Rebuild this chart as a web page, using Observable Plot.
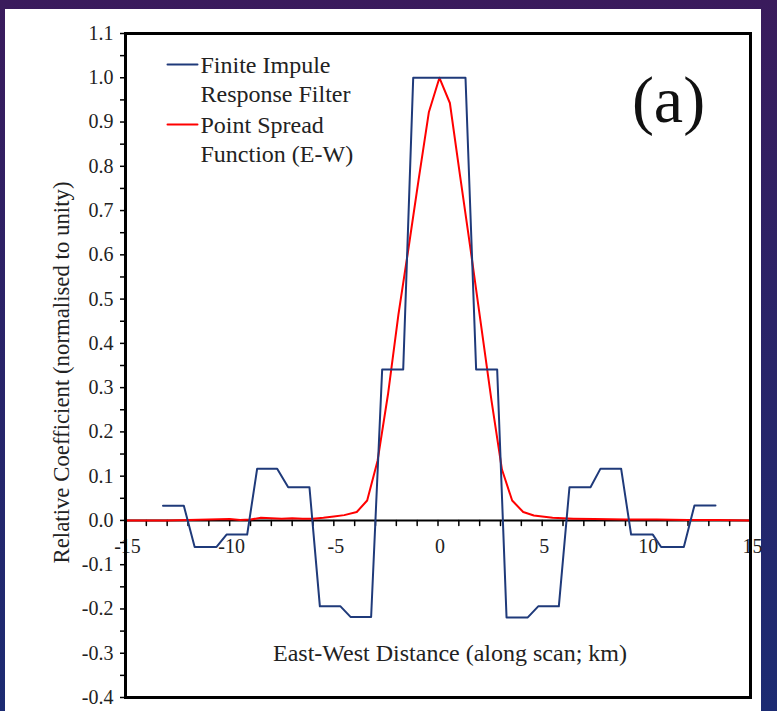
<!DOCTYPE html>
<html>
<head>
<meta charset="utf-8">
<script src="https://cdn.jsdelivr.net/npm/d3@7"></script>
<script src="https://cdn.jsdelivr.net/npm/@observablehq/plot@0.6"></script>
<style>
  html, body { margin: 0; padding: 0; }
  body { width: 777px; height: 711px; overflow: hidden;
         background: linear-gradient(180deg, #3a1b5c 0%, #2a2368 45%, #1c2b72 100%); }
  #wrap { position: relative; width: 777px; height: 711px; }
  #panel { position: absolute; left: 5px; top: 9px; width: 756px; height: 702px; background: #ffffff; }
  #chart { position: absolute; left: 0; top: 0; }
  #chart svg { background: transparent !important; }
  #chart svg text { font-family: "Liberation Serif", "Times New Roman", Times, "DejaVu Serif", serif !important; }
</style>
</head>
<body>
<div id="wrap"><div id="panel"></div><div id="chart"></div></div>
<script>
// Finite Impulse Response filter (blue step-like curve)
const firX = [-13.2, -12.2, -11.68, -10.63, -10.15, -9.16, -8.68, -7.72, -7.19, -6.17, -5.67, -4.68, -4.2, -3.21, -2.68, -1.67, -1.19, 1.32, 1.83, 2.84, 3.29, 4.31, 4.81, 5.8, 6.31, 7.32, 7.8, 8.79, 9.27, 10.31, 10.71, 11.8, 12.31, 13.32];
const firY = [0.033, 0.033, -0.06, -0.06, -0.032, -0.032, 0.117, 0.117, 0.075, 0.075, -0.194, -0.194, -0.218, -0.218, 0.341, 0.341, 1.0, 1.0, 0.341, 0.341, -0.219, -0.219, -0.194, -0.194, 0.075, 0.075, 0.117, 0.117, -0.032, -0.032, -0.06, -0.06, 0.034, 0.034];

// Point Spread Function (E-W) (red curve)
const psfX = [-15, -13, -12, -11, -10, -9.5, -9, -8.5, -8, -7.5, -7, -6.5, -6, -5.5, -5, -4.5, -3.9, -3.4, -2.9, -2.4, -1.9, -1.4, -0.93, -0.44, 0.07, 0.57, 1.07, 1.57, 2.07, 2.57, 3.07, 3.56, 4.09, 4.6, 5.5, 6.5, 7.5, 9, 10.5, 12, 13.5, 15];
const psfY = [0, 0, 0.001, 0.002, 0.003, 0.001, 0.002, 0.006, 0.005, 0.004, 0.005, 0.004, 0.004, 0.006, 0.009, 0.012, 0.019, 0.045, 0.135, 0.285, 0.465, 0.62, 0.77, 0.922, 1.0, 0.943, 0.775, 0.61, 0.44, 0.27, 0.115, 0.045, 0.019, 0.011, 0.006, 0.004, 0.003, 0.002, 0.002, 0.001, 0.001, 0];

// Axis ticks and labels
const xTicks = [-15, -10, -5, 0, 5, 10, 15];
const xTickLabels = ["-15", "-10", "-5", "0", "5", "10", "15"];
const xMinorTicks = [-14,-13,-12,-11,-10,-9,-8,-7,-6,-5,-4,-3,-2,-1,0,1,2,3,4,5,6,7,8,9,10,11,12,13,14];
const yTicks = [-0.4, -0.3, -0.2, -0.1, 0.0, 0.1, 0.2, 0.3, 0.4, 0.5, 0.6, 0.7, 0.8, 0.9, 1.0, 1.1];
const yTickLabels = ["-0.4", "-0.3", "-0.2", "-0.1", "0.0", "0.1", "0.2", "0.3", "0.4", "0.5", "0.6", "0.7", "0.8", "0.9", "1.0", "1.1"];
const yMinorTicks = [-0.35, -0.25, -0.15, -0.05, 0.05, 0.15, 0.25, 0.35, 0.45, 0.55, 0.65, 0.75, 0.85, 0.95, 1.05];

const seriesNames = ["Finite Impule\nResponse Filter", "Point Spread\nFunction (E-W)"];
const seriesColors = ["#1f3a7a", "#ff0000"];
const xTitle = "East-West Distance (along scan; km)";
const yTitle = "Relative Coefficient (normalised to unity)";
const panelLabel = "(a)";

const fir = firX.map((x, i) => ({x, y: firY[i]}));
const psf = psfX.map((x, i) => ({x, y: psfY[i]}));
const xLab = xTicks.map((x, i) => ({x, label: xTickLabels[i]}));
const yLab = yTicks.map((y, i) => ({y, label: yTickLabels[i]}));

const tickShape = { draw(context, l) { context.moveTo(0, 0); context.lineTo(0, -l); } };
const serif = "Liberation Serif";

function legendEntry(i) {
  const dy = 31 + 60 * i;
  return [
    Plot.vector([seriesNames[i]], { frameAnchor: "top-left", dx: 42, dy, length: 30, rotate: 90, anchor: "start", shape: tickShape, stroke: seriesColors[i], strokeWidth: 2 }),
    Plot.text([seriesNames[i]], { frameAnchor: "top-left", dx: 75, dy: dy + 14, text: d => d, textAnchor: "start", lineAnchor: "middle", lineHeight: 1.17, fontSize: 24, fill: "#222", fontFamily: serif })
  ];
}

const chart = Plot.plot({
  width: 777,
  height: 711,
  marginLeft: 125,
  marginRight: 27,
  marginTop: 33,
  marginBottom: 14,
  style: { background: "transparent", fontFamily: serif },
  x: { domain: [-15, 15], axis: null },
  y: { domain: [-0.4, 1.1], axis: null },
  marks: [
    // y axis ticks (major + minor), outward
    Plot.axisY(yTicks, { anchor: "left", label: null, tickSize: 5, tickFormat: () => "", stroke: "black", strokeWidth: 1.5 }),
    Plot.axisY(yMinorTicks, { anchor: "left", label: null, tickSize: 5, tickFormat: () => "", stroke: "black", strokeWidth: 1.5 }),
    Plot.text(yLab, { x: -15, y: "y", text: "label", textAnchor: "end", dx: -12, fontSize: 20, fill: "#222", fontFamily: serif }),
    // zero line and its ticks
    Plot.ruleY([0], { stroke: "black", strokeWidth: 2 }),
    Plot.vector(xMinorTicks, { x: d => d, y: 0, length: 5, rotate: 180, anchor: "start", shape: tickShape, stroke: "black", strokeWidth: 1.5 }),
    Plot.text(xLab, { x: "x", y: 0, text: "label", dy: 26, dx: 2, fontSize: 20, fill: "#222", fontFamily: serif }),
    // series
    Plot.line(psf, { x: "x", y: "y", stroke: seriesColors[1], strokeWidth: 2 }),
    Plot.line(fir, { x: "x", y: "y", stroke: seriesColors[0], strokeWidth: 2 }),
    // frame
    Plot.frame({ stroke: "black", strokeWidth: 3 }),
    // legend
    ...legendEntry(0),
    ...legendEntry(1),
    // titles
    Plot.text([xTitle], { frameAnchor: "bottom", dx: 12, dy: -37, text: d => d, textAnchor: "middle", fontSize: 24, fill: "#222", fontFamily: serif }),
    Plot.text([yTitle], { frameAnchor: "left", dx: -64, dy: 7, rotate: -90, text: d => d, textAnchor: "middle", fontSize: 22.8, fill: "#222", fontFamily: serif }),
    Plot.text([panelLabel], { frameAnchor: "top-right", dx: -82, dy: 88, text: d => d, textAnchor: "middle", lineAnchor: "bottom", fontSize: 66, fill: "#111", fontFamily: serif })
  ]
});
document.getElementById("chart").appendChild(chart);
</script>
</body>
</html>
